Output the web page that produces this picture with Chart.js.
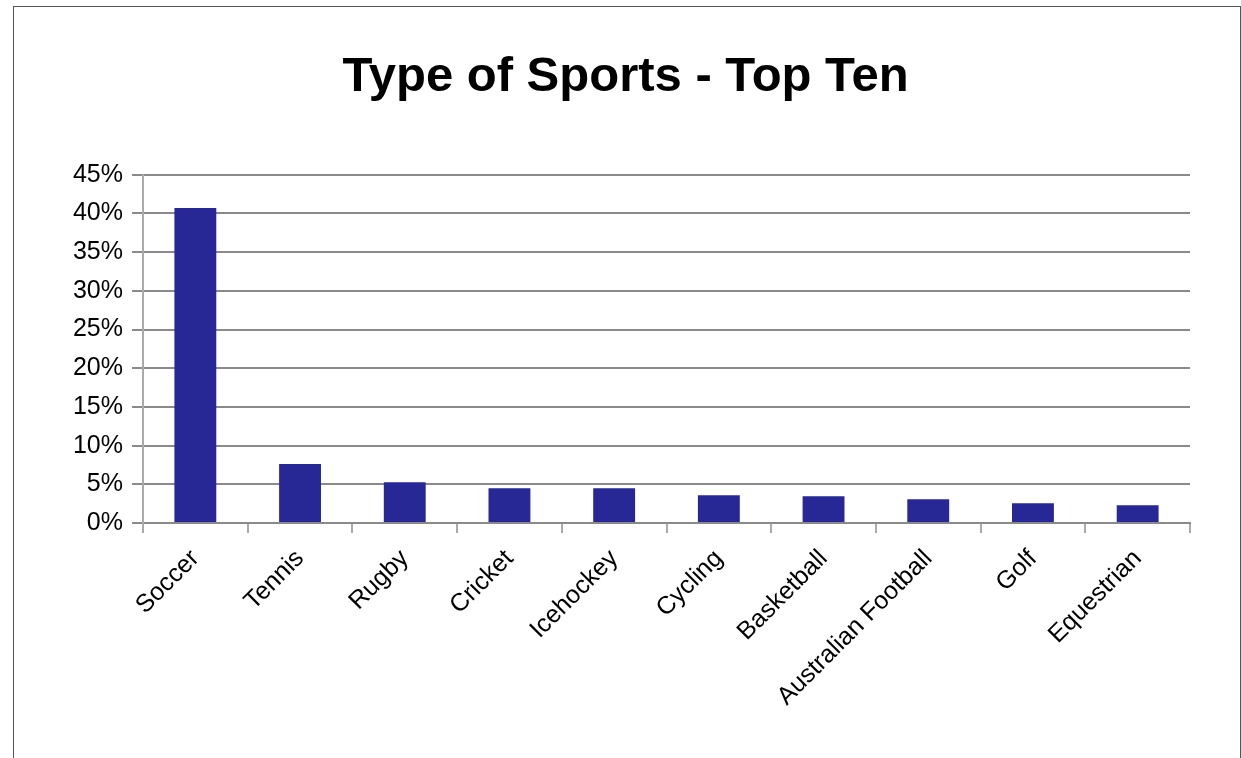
<!DOCTYPE html>
<html>
<head>
<meta charset="utf-8">
<script src="https://cdn.jsdelivr.net/npm/chart.js@4"></script>
<style>
  html, body { margin: 0; padding: 0; background: #fff; }
  #frame { position: absolute; left: 13px; top: 6px; width: 1228px; height: 800px; border: 1px solid #555; box-sizing: border-box; }
  #wrap { position: absolute; left: 0; top: 0; width: 1241px; height: 758px; }
</style>
</head>
<body>
<div id="frame"></div>
<div id="wrap"><canvas id="grafico"></canvas></div>
<script>
// Dados do gráfico
const categorias = ['Soccer', 'Tennis', 'Rugby', 'Cricket', 'Icehockey', 'Cycling', 'Basketball', 'Australian Football', 'Golf', 'Equestrian'];
const percentuais = [40.7, 7.63, 5.26, 4.49, 4.49, 3.58, 3.45, 3.07, 2.55, 2.29];
const ticksY = [0, 5, 10, 15, 20, 25, 30, 35, 40, 45];

Chart.defaults.font.family = '"Liberation Sans", Arial, sans-serif';
Chart.defaults.color = '#000';

const ctx = document.getElementById('grafico').getContext('2d');
new Chart(ctx, {
    type: 'bar',
    data: {
        labels: categorias,
        datasets: [{
            label: 'Type of Sports',
            data: percentuais,
            backgroundColor: '#272896',
            barPercentage: 0.4,
            categoryPercentage: 1.0
        }]
    },
    options: {
        responsive: true,
        maintainAspectRatio: false,
        animation: false,
        // padding simétrico para o título ficar centrado no quadro
        layout: { padding: { left: 61, right: 51, top: 0, bottom: 0 } },
        plugins: {
            legend: { display: false },
            tooltip: { enabled: false },
            title: {
                display: true,
                text: 'Type of Sports - Top Ten',
                font: { size: 49, weight: 'bold' },
                color: '#000',
                padding: { top: 48, bottom: 68 }
            }
        },
        scales: {
            x: {
                grid: { drawOnChartArea: false, drawTicks: true, tickLength: 10, color: '#aaa', lineWidth: 2 },
                border: { display: true, color: '#8a8a8a', width: 2 },
                ticks: { font: { size: 25 }, maxRotation: 45, minRotation: 45, padding: 11, autoSkip: false },
                afterFit: (scale) => { scale.height = 235; }
            },
            y: {
                min: 0,
                max: 45,
                afterBuildTicks: (scale) => { scale.ticks = ticksY.map(v => ({ value: v })); },
                grid: { color: '#8a8a8a', lineWidth: 2, tickLength: 11 },
                border: { display: true, color: '#aaa', width: 2 },
                ticks: { font: { size: 25 }, padding: 9, callback: (v) => v + '%' },
                afterFit: (scale) => { scale.width = 82; }
            }
        }
    }
});
</script>
</body>
</html>
